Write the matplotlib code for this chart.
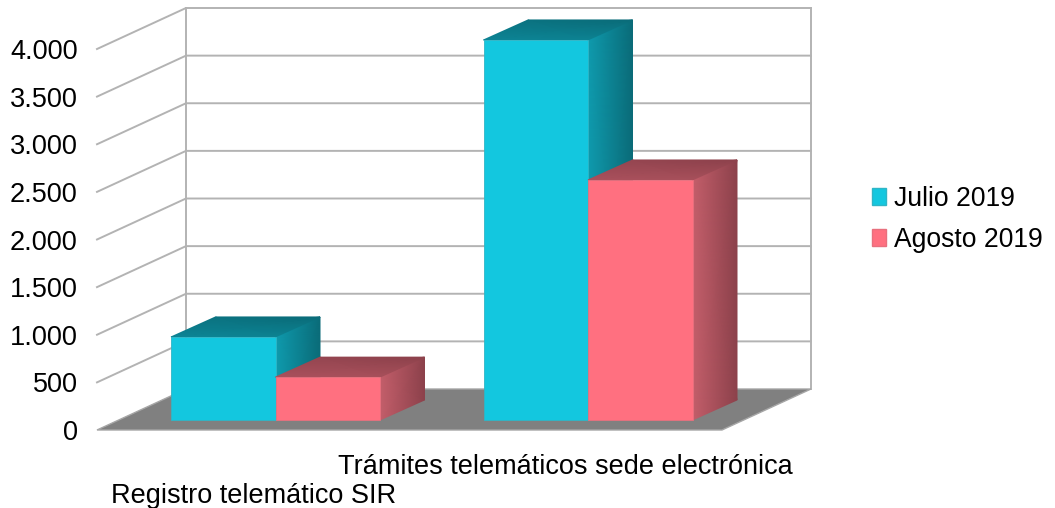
import numpy as np
import matplotlib
matplotlib.use('Agg')
from matplotlib import pyplot as plt
from matplotlib.colors import LinearSegmentedColormap
from matplotlib.patches import Patch, Polygon

categories = ['Registro telemático SIR', 'Trámites telemáticos sede electrónica']
series_names = ['Julio 2019', 'Agosto 2019']
julio = [872, 3990]
agosto = [450, 2520]
y_ticks = [0, 500, 1000, 1500, 2000, 2500, 3000, 3500, 4000]
y_tick_labels = ['0', '500', '1.000', '1.500', '2.000', '2.500', '3.000', '3.500', '4.000']

plt.rcParams['font.family'] = ['Liberation Sans', 'DejaVu Sans']
W, H = 1055, 508
FONT = 19.5
GRID = '#b3b3b3'

fig = plt.figure(figsize=(W / 100, H / 100), dpi=100)
# front plane of the box, in pixels
left, right, bottom, top = 97, 722, 430, 49
ax = fig.add_axes([left / W, 1 - bottom / H, (right - left) / W, (bottom - top) / H])
ax.set_xlim(0, 2)
ax.set_ylim(0, 4000)
ax.patch.set_visible(False)
for s in ax.spines.values():
    s.set_visible(False)

px_x = 2 / (right - left)
px_y = 4000 / (bottom - top)
# depth of the box and of the bars
box_dx, box_dy = 89 * px_x, 41 * px_y
front_dx, front_dy = 22 * px_x, 10 * px_y
bar_dx, bar_dy = 44.5 * px_x, 20 * px_y
bar_w = 104.5 * px_x
gap = 52 * px_x

# floor
ax.add_patch(Polygon([(0, 0), (2, 0), (2 + box_dx, box_dy), (box_dx, box_dy)], closed=True,
                     fc='#808080', ec='#a6a6a6', lw=1, clip_on=False, zorder=2))
# back and left walls
for v in y_ticks[1:]:
    ax.plot([0, box_dx, 2 + box_dx], [v, v + box_dy, v + box_dy], color=GRID, lw=1.4,
            clip_on=False, zorder=1, solid_joinstyle='miter')
ax.plot([box_dx, box_dx], [box_dy, 4000 + box_dy], color=GRID, lw=1.4, clip_on=False, zorder=1)
ax.plot([2 + box_dx, 2 + box_dx], [box_dy, 4000 + box_dy], color=GRID, lw=1.4, clip_on=False, zorder=1)


def draw_bar(x, val, face, edge, cmap, z):
    y0 = front_dy
    x0 = x + front_dx
    ax.bar(x0, val, bar_w, bottom=y0, align='edge', color=face, edgecolor=edge, lw=0.6,
           clip_on=False, zorder=z + 0.2)
    # side
    sx = np.array([[x0 + bar_w, x0 + bar_w + bar_dx]] * 2)
    sy = np.array([[y0, y0 + bar_dy], [y0 + val, y0 + val + bar_dy]])
    ax.pcolormesh(sx, sy, np.array([[0.0, 1.0], [0.0, 1.0]]), shading='gouraud', cmap=cmap,
                  vmin=0, vmax=1, clip_on=False, zorder=z)
    # top
    tx = np.array([[x0, x0 + bar_w], [x0 + bar_dx, x0 + bar_w + bar_dx]])
    ty = np.array([[y0 + val] * 2, [y0 + val + bar_dy] * 2])
    ax.pcolormesh(tx, ty, np.array([[0.45, 0.5], [0.85, 1.0]]), shading='gouraud', cmap=cmap,
                  vmin=0, vmax=1, clip_on=False, zorder=z)


cyan = '#13C7DF'
pink = '#FF7080'
cyan_map = LinearSegmentedColormap.from_list('cyan_side', ['#0F9BAE', '#0A6B78'])
pink_map = LinearSegmentedColormap.from_list('pink_side', ['#C45F6B', '#8C414B'])

for i in range(len(categories)):
    x = i + gap
    draw_bar(x, julio[i], cyan, '#2FB5C6', cyan_map, 3 + i * 2)
    draw_bar(x + bar_w, agosto[i], pink, '#E8707E', pink_map, 4 + i * 2)

ax.set_yticks(y_ticks)
ax.set_yticklabels(y_tick_labels)
ax.set_xticks([0.5, 1.5])
ax.set_xticklabels(categories)
ax.tick_params(axis='both', length=0, labelsize=FONT, labelcolor='black')
ax.tick_params(axis='y', pad=14)
ax.xaxis.get_major_ticks()[0].set_pad(38.5)
ax.xaxis.get_major_ticks()[1].set_pad(17)

handles = [Patch(fc=cyan, ec='#2FB5C6', label=series_names[0]),
           Patch(fc=pink, ec='#E8707E', label=series_names[1])]
fig.legend(handles=handles, loc='center left', bbox_to_anchor=(848 / W, 1 - 219.5 / H), frameon=False,
           fontsize=19.1, handlelength=0.55, handleheight=0.6, handletextpad=0.3, labelspacing=0.55)

fig.savefig('out.png', dpi=100)
